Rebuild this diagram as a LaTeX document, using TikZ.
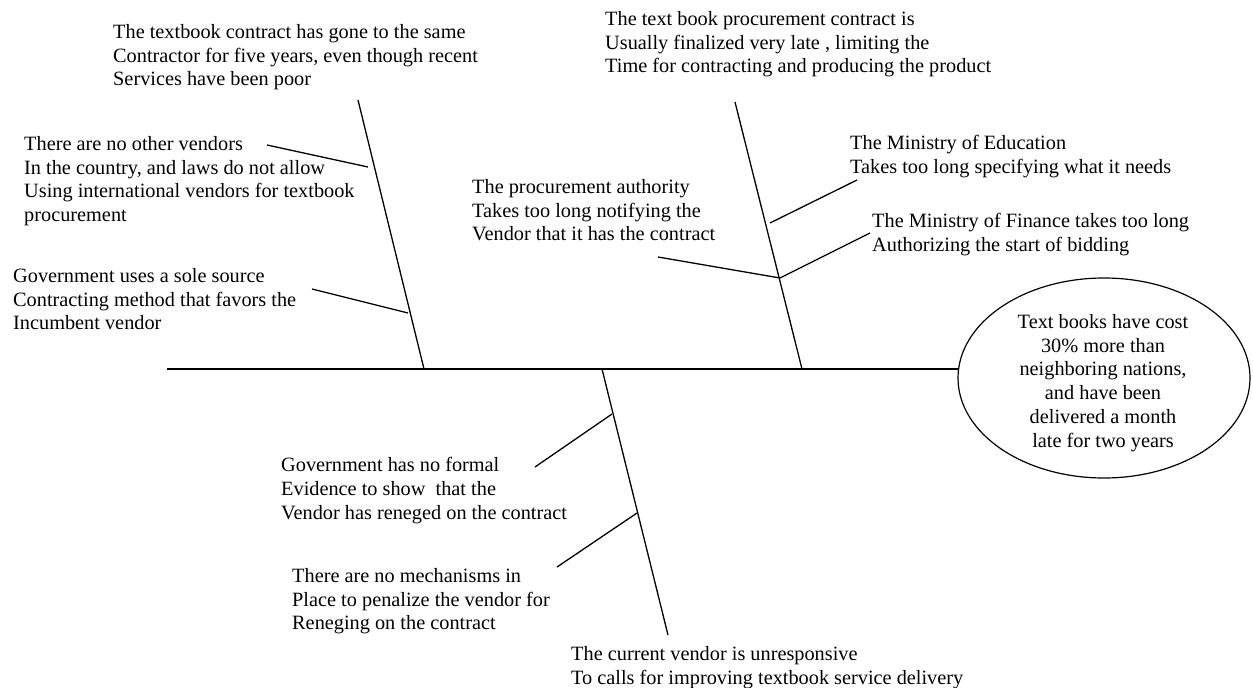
\documentclass[tikz,border=0pt]{standalone}
\usepackage{fontspec}
\setmainfont{Liberation Serif}
\usetikzlibrary{shapes.geometric}
\tikzset{
  lbl/.style={anchor=north west, align=left, inner sep=0pt, font=\fontsize{20.3}{23.8}\selectfont},
  bone/.style={line width=1.3pt, black},
  effect/.style={ellipse, draw, line width=1.2pt, minimum width=292pt, minimum height=200pt, align=center, inner sep=0pt, font=\fontsize{20.3}{23.8}\selectfont}
}
\begin{document}
\begin{tikzpicture}[x=1pt,y=-1pt]
\useasboundingbox (0,0) rectangle (1253,688);
\fill[white] (0,0) rectangle (1253,688);
% effect
\node[effect] (e) at (1104,378) {};
\node[align=center, inner sep=0pt, font=\fontsize{20.3}{23.8}\selectfont] (et) at (1103,383) {Text books have cost\\30\% more than\\neighboring nations,\\and have been\\delivered a month\\late for two years};
% spine
\coordinate (tail) at (167,369);
\coordinate (head) at (959,369);
\draw[bone] (tail) -- (head);
% upper left bone
\coordinate (ulT) at (358,100);
\coordinate (ulB) at (424,369);
\draw[bone] (ulT) -- (ulB);
\coordinate (a1s) at (267,145); \coordinate (a1e) at (368,167);
\draw[bone] (a1s) -- (a1e);
\coordinate (a2s) at (312,289); \coordinate (a2e) at (408,313);
\draw[bone] (a2s) -- (a2e);
% upper right bone
\coordinate (urT) at (735,102);
\coordinate (urB) at (802,369);
\draw[bone] (urT) -- (urB);
\coordinate (b1s) at (857,180); \coordinate (b1e) at (770,223);
\draw[bone] (b1s) -- (b1e);
\coordinate (b2s) at (870,233); \coordinate (bj) at (780,278);
\draw[bone] (b2s) -- (bj);
\coordinate (b3s) at (658,257);
\draw[bone] (b3s) -- (bj);
% lower bone
\coordinate (loT) at (602,369);
\coordinate (loB) at (668,635);
\draw[bone] (loT) -- (loB);
\coordinate (c1s) at (535,467); \coordinate (c1e) at (612,414);
\draw[bone] (c1s) -- (c1e);
\coordinate (c2s) at (557,567); \coordinate (c2e) at (637,513);
\draw[bone] (c2s) -- (c2e);
% labels
\node[lbl] (t1) at (113,24) {The textbook contract has gone to the same\\Contractor for five years, even though recent\\Services have been poor};
\node[lbl] (t2) at (24,136) {There are no other vendors\\In the country, and laws do not allow\\Using international vendors for textbook\\procurement};
\node[lbl] (t3) at (13,268) {Government uses a sole source\\Contracting method that favors the\\Incumbent vendor};
\node[lbl] (t4) at (605,11) {The text book procurement contract is\\Usually finalized very late , limiting the\\Time for contracting and producing the product};
\node[lbl] (t5) at (850,135) {The Ministry of Education\\Takes too long specifying what it needs};
\node[lbl] (t6) at (472,179) {The procurement authority\\Takes too long notifying the\\Vendor that it has the contract};
\node[lbl] (t7) at (872,213) {The Ministry of Finance takes too long\\Authorizing the start of bidding};
\node[lbl] (t9) at (281,457) {Government has no formal\\Evidence to show\ \ that the\\Vendor has reneged on the contract};
\node[lbl] (t10) at (292,568) {There are no mechanisms in\\Place to penalize the vendor for\\Reneging on the contract};
\node[lbl] (t11) at (571,646) {The current vendor is unresponsive\\To calls for improving textbook service delivery};
\end{tikzpicture}
\end{document}
